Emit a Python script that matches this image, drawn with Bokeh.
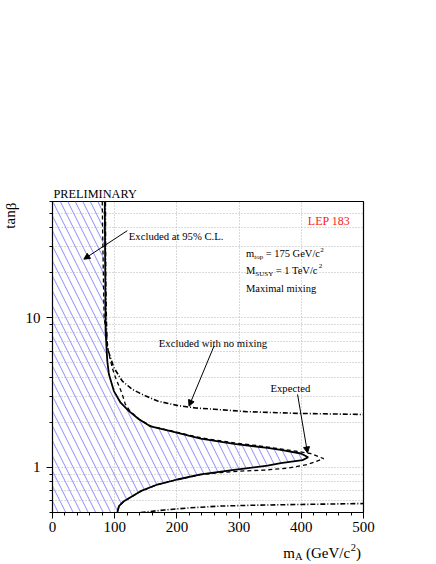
from bokeh.plotting import figure
from bokeh.layouts import column
from bokeh.models import Range1d, FixedTicker, Label, Arrow, NormalHead, PrintfTickFormatter
from bokeh.embed import file_html
from bokeh.resources import INLINE

# ---- axes / ticks ----
x_ticks = [0, 100, 200, 300, 400, 500]
x_minor = [20, 40, 60, 80, 120, 140, 160, 180, 220, 240, 260, 280, 320, 340, 360, 380, 420, 440, 460, 480]
y_ticks = [1, 10]
y_minor = [0.5, 0.6, 0.7, 0.8, 0.9, 2, 3, 4, 5, 6, 7, 8, 9, 20, 30, 40, 50, 60]

# ---- observed exclusion (solid) ----
obs_mA = [84, 84.5, 85.3, 85.3, 88.1, 90.7, 98.7, 109.5, 122.9, 139, 157.8, 190, 238.3, 292, 345.7, 367, 399.4, 411,
          402, 367, 345.7, 292, 238.3, 200.8, 168.6, 141.7, 114.8, 106.8, 104.2]
obs_tb = [60, 30, 10, 8.18, 5.15, 4.20, 3.24, 2.71, 2.38, 2.10, 1.88, 1.75, 1.56, 1.44, 1.35, 1.31, 1.24, 1.17,
          1.12, 1.07, 1.03, 0.964, 0.898, 0.831, 0.769, 0.694, 0.595, 0.551, 0.5]

# ---- expected exclusion (dashed) ----
exp_mA = [80, 81, 83, 86.5, 89.7, 96, 101.4, 106.8, 112, 117, 124, 139, 158, 190, 238, 292, 335, 388, 415, 436,
          410, 378, 340, 300, 270, 238.3, 200.8, 168.6, 141.7, 114.8, 106.8, 104.2]
exp_tb = [60, 30, 10, 8.0, 6.0, 4.65, 3.98, 3.51, 3.1, 2.65, 2.4, 2.11, 1.89, 1.76, 1.58, 1.46, 1.39, 1.29, 1.24, 1.145,
          1.047, 0.99, 0.96, 0.945, 0.925, 0.895, 0.83, 0.768, 0.692, 0.593, 0.55, 0.5]

# ---- excluded with no mixing (dash-dot), two branches ----
nm_up_mA = [85, 85.5, 86.5, 88, 98.7, 112, 128, 150, 169, 200, 230, 260, 313, 394, 500]
nm_up_tb = [60, 20, 10, 6.3, 4.65, 3.79, 3.33, 3.0, 2.78, 2.6, 2.5, 2.45, 2.36, 2.30, 2.26]
nm_lo_mA = [141.7, 180, 220, 270, 330, 400, 500]
nm_lo_tb = [0.5, 0.52, 0.537, 0.552, 0.56, 0.566, 0.574]

FONT = "Liberation Serif"
TOP_H = 540  # height of main figure; x-axis title sits in a strip below it

p = figure(frame_width=311, frame_height=311, min_border_left=52, min_border_right=73,
           min_border_top=201, min_border_bottom=TOP_H - 512,
           x_range=Range1d(0, 500), y_range=Range1d(0.5, 60), y_axis_type="log",
           output_backend="svg", toolbar_location=None)
p.background_fill_color = "white"
p.border_fill_color = "white"
p.outline_line_color = "black"
p.outline_line_width = 1.2

xt = FixedTicker(ticks=x_ticks, minor_ticks=x_minor)
yt = FixedTicker(ticks=y_ticks, minor_ticks=y_minor)
p.xaxis.ticker = xt
p.yaxis.ticker = yt
p.xgrid.ticker = FixedTicker(ticks=[100, 200, 300, 400])
p.ygrid.ticker = yt
p.yaxis.formatter = PrintfTickFormatter(format="%d")
for g in (p.xgrid, p.ygrid):
    g.grid_line_color = "#b4b4b4"
    g.grid_line_dash = "1 2"
    g.grid_line_width = 1
p.ygrid.minor_grid_line_color = "#b4b4b4"
p.ygrid.minor_grid_line_dash = "1 2"

for ax in (p.xaxis, p.yaxis):
    ax.axis_line_color = "black"
    ax.major_tick_line_color = "black"
    ax.minor_tick_line_color = "black"
    ax.major_tick_in = 0
    ax.major_tick_out = 6
    ax.minor_tick_in = 0
    ax.minor_tick_out = 3
    ax.major_label_text_font = FONT
    ax.major_label_text_font_size = "15px"
    ax.major_label_text_color = "black"
p.xaxis.major_label_standoff = 3
p.yaxis.major_label_standoff = 6

# hatched excluded region
hx = [0] + obs_mA + [0]
hy = [y_minor[-1]] + obs_tb + [y_minor[0]]
p.patch(hx, hy, fill_color=None, line_color=None, hatch_pattern="\\", hatch_color="#8c8cff",
        hatch_scale=15, hatch_weight=1)

p.line(nm_up_mA, nm_up_tb, line_color="black", line_width=1.6, line_dash="5 2 1 2")
p.line(nm_lo_mA, nm_lo_tb, line_color="black", line_width=1.6, line_dash="5 2 1 2")
p.line(exp_mA, exp_tb, line_color="black", line_width=1.3, line_dash="4 3")
p.line(obs_mA, obs_tb, line_color="black", line_width=1.8)

# arrows
def arrow(x0, y0, x1, y1):
    p.add_layout(Arrow(x_start=x0, y_start=y0, x_end=x1, y_end=y1, line_color="black", line_width=1,
                       end=NormalHead(size=6, fill_color="black", line_color="black", line_width=1)))

arrow(120.3, 38.3, 50.4, 24.7)
arrow(259.7, 6.49, 219.5, 2.57)
arrow(394, 3.08, 410, 1.25)

FL, FB = 52, 512  # frame left / bottom, image pixels

def txt(px, py, s, size, color="black", align="left", angle=0.0, place="center", ox=FL, oy=FB):
    lab = Label(x=px - ox, y=oy - py, x_units="screen", y_units="screen", text=s,
                text_font=FONT, text_font_size=f"{size}px", text_color=color,
                text_align=align, text_baseline="alphabetic", angle=angle)
    if place == "center":
        p.add_layout(lab)
    else:
        p.add_layout(lab, place)

txt(53, 193.4, "PRELIMINARY", 12.3, place="above", ox=52, oy=201)
txt(128.3, 235.2, "Excluded at 95% C.L.", 10.7)
txt(158.3, 342.7, "Excluded with no mixing", 10.7)
txt(270, 387.7, "Expected", 10.7)
txt(307.3, 220.7, "LEP 183", 12, color="#ff2020")

# m_top = 175 GeV/c^2
txt(245.5, 253.3, "m", 10.5)
txt(253.7, 256.3, "top", 7)
txt(265.2, 253.3, "= 175 GeV/c", 10.5)
txt(319.8, 249.0, "2", 7)
# M_SUSY = 1 TeV/c^2
txt(245.5, 270, "M", 10.5)
txt(254.8, 273, "SUSY", 7)
txt(275.3, 270, "= 1 TeV/c", 10.5)
txt(318.3, 265.7, "2", 7)
txt(245.5, 288.3, "Maximal mixing", 10.5)

# y axis title tan beta
txt(24, 201.7, "tanβ", 15, align="right", angle=1.5707963, place="left", ox=20, oy=511.5)

# ---- strip below the plot holding the x-axis title m_A (GeV/c^2) ----
STRIP_H = 564 - TOP_H
STRIP_W = 436 - FL
q = figure(frame_width=STRIP_W, frame_height=STRIP_H, min_border=0, x_range=Range1d(0, STRIP_W),
           y_range=Range1d(0, STRIP_H), x_axis_location=None, y_axis_location=None,
           output_backend="svg", toolbar_location=None)
q.outline_line_color = None
q.grid.visible = False
q.background_fill_color = "white"
q.border_fill_color = "white"

def xt_txt(px, py, s, size):
    # the strip's frame is aligned with the main frame's left edge
    q.add_layout(Label(x=px - FL, y=564 - py, text=s, text_font=FONT, text_font_size=f"{size}px",
                       text_color="black", text_align="left", text_baseline="alphabetic"))

xt_txt(282.7, 552.7, "m", 15)
xt_txt(294.4, 556.2, "A", 10.5)
xt_txt(305.5, 552.7, "(GeV/c", 15)
xt_txt(350.2, 546.5, "2", 10.5)
xt_txt(355.6, 552.7, ")", 15)

layout = column(p, q, spacing=0)
open("out.html", "w").write(file_html(layout, INLINE))
